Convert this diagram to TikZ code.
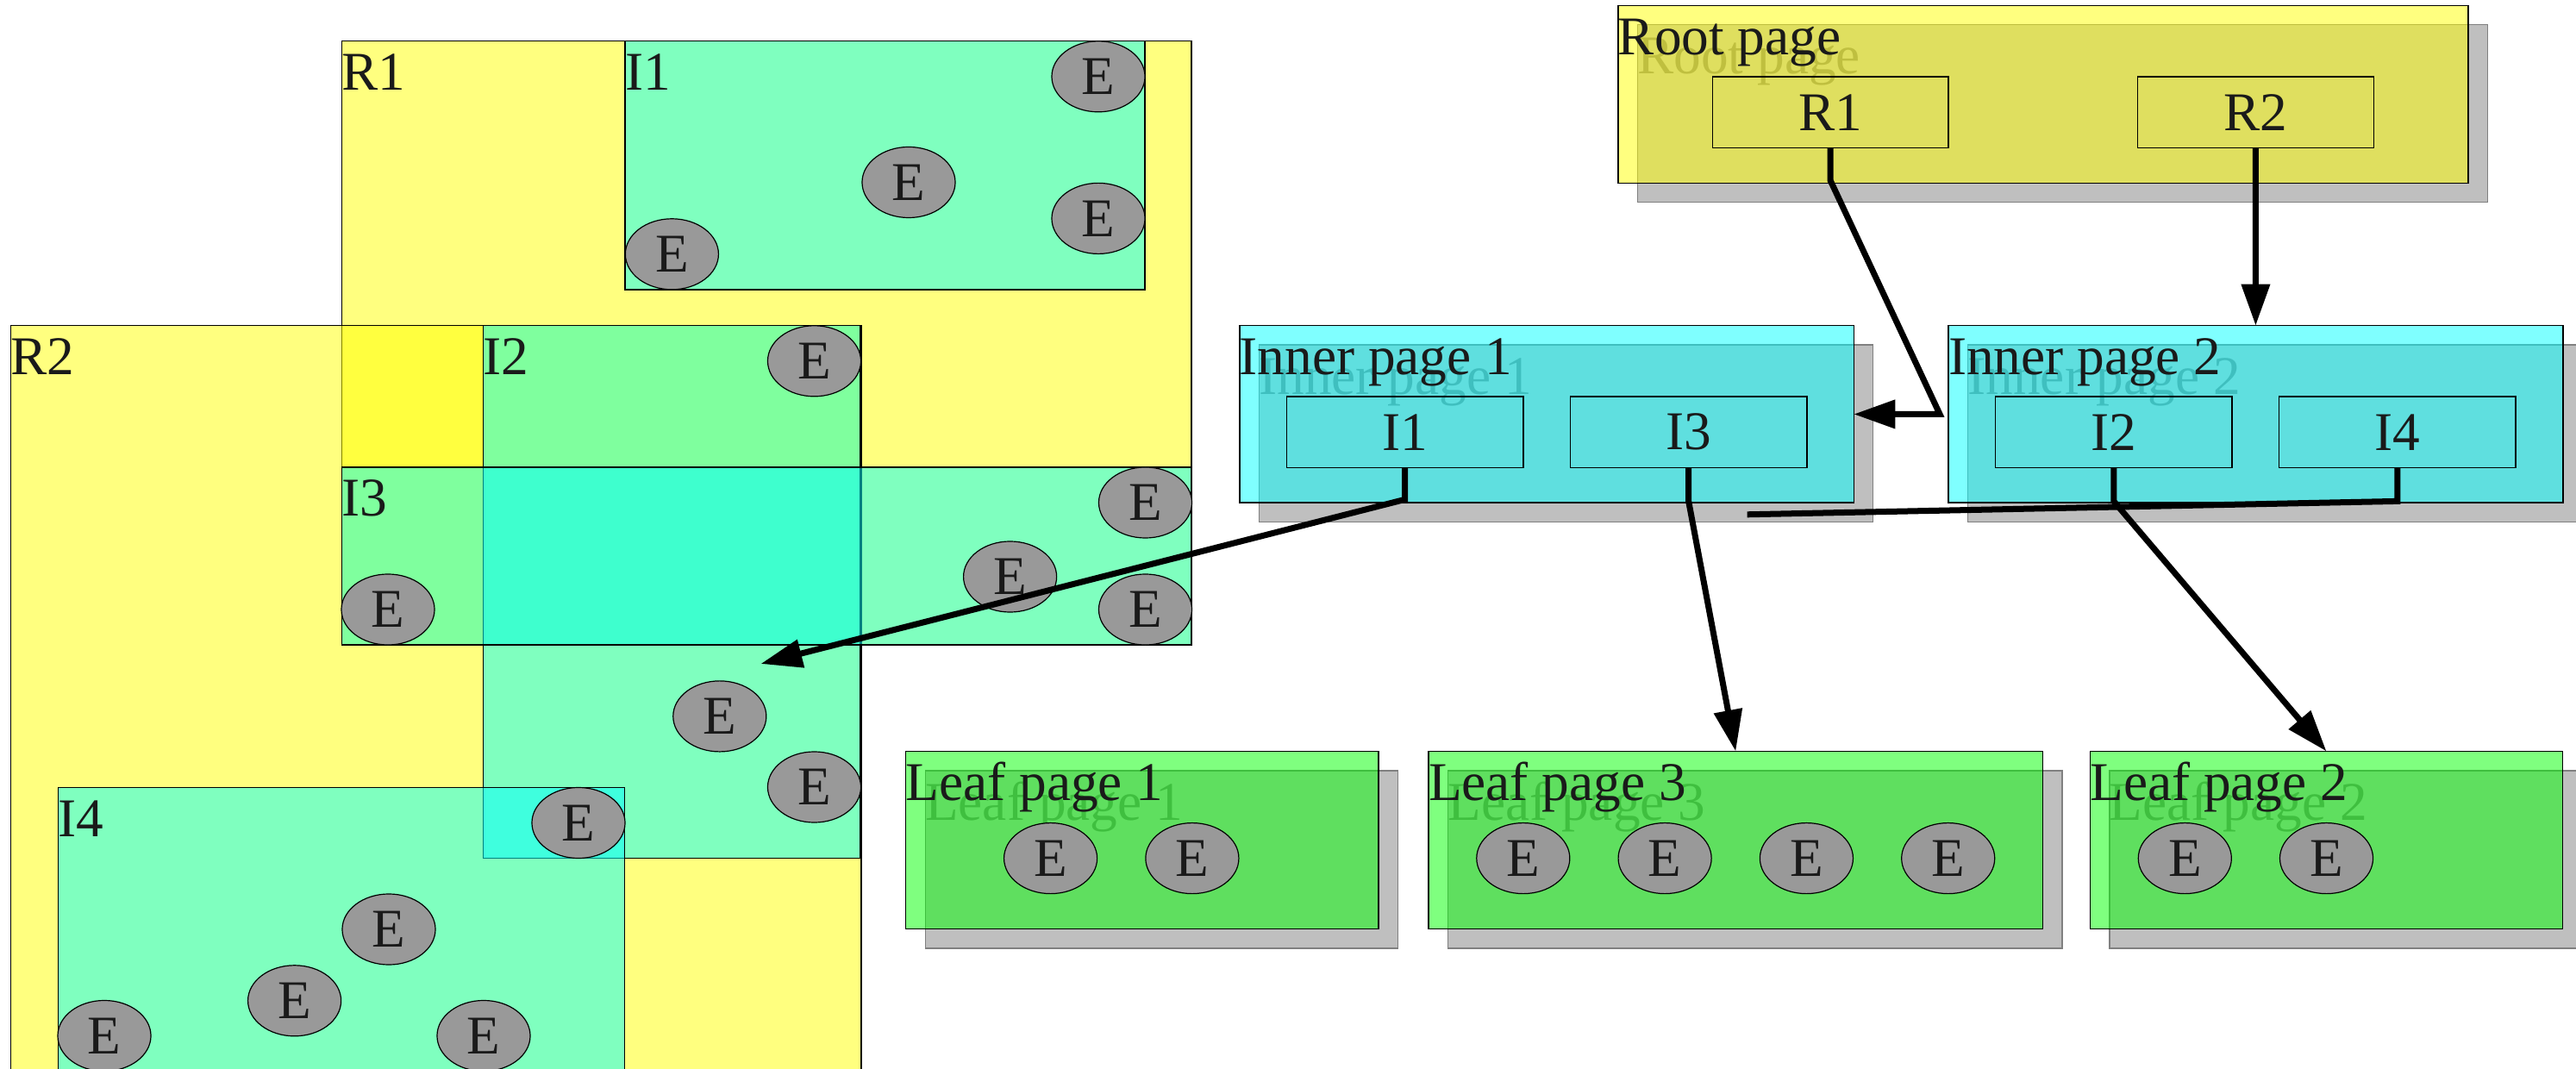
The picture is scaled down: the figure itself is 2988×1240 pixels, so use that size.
\documentclass[tikz,border=0pt]{standalone}
\usepackage{fontspec}
\setmainfont{Liberation Serif}
\usetikzlibrary{arrows.meta,shapes.geometric,fit}
\definecolor{ye}{RGB}{255,255,0}
\definecolor{cy}{RGB}{0,255,255}
\definecolor{gr}{RGB}{0,255,0}
\definecolor{shd}{RGB}{191,191,191}
\definecolor{shdline}{RGB}{128,128,128}
\definecolor{ghostc}{RGB}{128,128,128}
\definecolor{egray}{RGB}{153,153,153}
\definecolor{txt}{RGB}{26,26,26}
\tikzset{
  every node/.style={font=\fontsize{18}{21}\selectfont, text=txt},
  region/.style={rectangle, inner sep=0pt, outer sep=0pt, draw=black, line width=0.014cm, fill=#1, fill opacity=0.5},
  ell/.style={ellipse, draw=black, line width=0.012cm, fill=egray, inner sep=0pt, minimum width=1.08cm, minimum height=0.82cm},
  lbl/.style={anchor=base west, inner sep=0pt, outer sep=0pt},
  ghost/.style={lbl, text=ghostc},
  shadowbox/.style={rectangle, inner sep=0pt, outer sep=0pt, draw=shdline, line width=0.014cm, fill=shd},
  keybox/.style={rectangle, inner sep=0pt, outer sep=0pt, draw=black, line width=0.014cm},
  conn/.style={draw=black, line width=0.07cm},
  tipped/.style={-{Triangle[length=0.48cm,width=0.32cm]}}
}
\begin{document}
\begin{tikzpicture}[x=0.01cm,y=-0.01cm]
\useasboundingbox (0,0) rectangle (2988,1240);
\begin{scope}
\clip (0,0) rectangle (2988,1240);
% ---------------- left diagram ----------------
\node[region=ye, fit={(396.4,47.5) (1382,748)}] (regR1) {};
\node[region=ye, fit={(12.6,377.8) (999,1300)}] (regR2) {};
\node[region=cy, fit={(725,47.5) (1327.8,336)}] (regI1) {};
\node[region=cy, fit={(560.5,377.8) (998,995.5)}] (regI2) {};
\node[region=cy, fit={(396.4,542) (1382,748)}] (regI3) {};
\node[region=cy, fit={(67.3,913.5) (724.6,1300)}] (regI4) {};

\node[lbl] (tR1) at (396.4,104.5) {R1};
\node[lbl] (tI1) at (725,104.5) {I1};
\node[lbl] (tR2) at (12.6,434.8) {R2};
\node[lbl] (tI2) at (560.5,434.8) {I2};
\node[lbl] (tI3) at (396.4,599) {I3};
\node[lbl] (tI4) at (67.3,970.5) {I4};

\node[ell] (e1) at (1274,88.8) {E};
\node[ell] (e2) at (1054,211.5) {E};
\node[ell] (e3) at (1274,253.4) {E};
\node[ell] (e4) at (779.4,294.8) {E};
\node[ell] (e5) at (944.5,418.8) {E};
\node[ell] (e6) at (1328.5,583) {E};
\node[ell] (e7) at (1171.6,669) {E};
\node[ell] (e8) at (1328.5,707) {E};
\node[ell] (e9) at (450,707) {E};
\node[ell] (e10) at (834.8,830.9) {E};
\node[ell] (e11) at (944.5,913) {E};
\node[ell] (e12) at (671,954.5) {E};
\node[ell] (e13) at (451,1078) {E};
\node[ell] (e14) at (341.6,1160.8) {E};
\node[ell] (e15) at (121,1201.5) {E};
\node[ell] (e16) at (561,1201.5) {E};

% ---------------- right diagram: shadows ----------------
\node[shadowbox, fit={(1899.4,28.8) (2885.5,234.8)}] (rootsh) {};
\node[shadowbox, fit={(1460.3,400.2) (2172.7,605.7)}] (inner1sh) {};
\node[shadowbox, fit={(2282.5,400.2) (2995.3,605.7)}] (inner2sh) {};
\node[shadowbox, fit={(1073.2,894) (1621.4,1100)}] (leaf1sh) {};
\node[shadowbox, fit={(1679.5,894) (2392,1100)}] (leaf3sh) {};
\node[shadowbox, fit={(2446.9,894) (2995.1,1100)}] (leaf2sh) {};

\node[ghost] (groot) at (1899.4,85.8) {Root page};
\node[ghost] (ginner1) at (1460.3,457.2) {Inner page 1};
\node[ghost] (ginner2) at (2282.5,457.2) {Inner page 2};
\node[ghost] (gleaf1) at (1073.2,951) {Leaf page 1};
\node[ghost] (gleaf3) at (1679.5,951) {Leaf page 3};
\node[ghost] (gleaf2) at (2446.9,951) {Leaf page 2};

% ---------------- pages ----------------
\node[region=ye, fit={(1876.9,6.3) (2863,212.3)}] (root) {};
\node[region=cy, fit={(1437.8,377.7) (2150.2,583.2)}] (inner1) {};
\node[region=cy, fit={(2260,377.7) (2972.8,583.2)}] (inner2) {};
\node[region=gr, fit={(1050.7,871.5) (1598.9,1077.5)}] (leaf1) {};
\node[region=gr, fit={(1657,871.5) (2369.5,1077.5)}] (leaf3) {};
\node[region=gr, fit={(2424.4,871.5) (2972.6,1077.5)}] (leaf2) {};

\node[lbl] (troot) at (1876.9,63.3) {Root page};
\node[lbl] (tinner1) at (1437.8,434.7) {Inner page 1};
\node[lbl] (tinner2) at (2260,434.7) {Inner page 2};
\node[lbl] (tleaf1) at (1050.7,928.5) {Leaf page 1};
\node[lbl] (tleaf3) at (1657,928.5) {Leaf page 3};
\node[lbl] (tleaf2) at (2424.4,928.5) {Leaf page 2};

% key boxes
\node[keybox, fit={(1986.4,89) (2260,171.6)}] (r1b) {};
\node[keybox, fit={(2479.3,89) (2753.6,171.6)}] (r2b) {};
\node[keybox, fit={(1492.3,460) (1766.8,542.4)}] (i1b) {};
\node[keybox, fit={(1821.4,460) (2095.9,542.4)}] (i3b) {};
\node[keybox, fit={(2314.5,460) (2589,542.4)}] (i2b) {};
\node[keybox, fit={(2643.6,460) (2918.1,542.4)}] (i4b) {};
\node (tr1b) at (r1b) {R1};
\node (tr2b) at (r2b) {R2};
\node (ti1b) at (i1b) {I1};
\node (ti3b) at (i3b) {I3};
\node (ti2b) at (i2b) {I2};
\node (ti4b) at (i4b) {I4};

% leaf entries
\node[ell] (l1a) at (1218.6,995.6) {E};
\node[ell] (l1b) at (1382.9,995.6) {E};
\node[ell] (l3a) at (1766.8,995.6) {E};
\node[ell] (l3b) at (1931.1,995.6) {E};
\node[ell] (l3c) at (2095.4,995.6) {E};
\node[ell] (l3d) at (2259.7,995.6) {E};
\node[ell] (l2a) at (2534.3,995.6) {E};
\node[ell] (l2b) at (2698.5,995.6) {E};

% ---------------- connectors ----------------
\coordinate (k1) at (2123.2,209.5);
\coordinate (k2) at (2250,480.45);
\draw[conn, tipped] (r1b.south) -- (k1) -- (k2) -- (inner1.east);
\draw[conn, tipped] (r2b.south) -- (inner2.north);
\draw[conn, tipped] (i3b.south) -- ++(0,39) -- (leaf3.north);
\draw[conn, tipped] (i2b.south) -- ++(0,39) -- (leaf2.north);
\coordinate (k5) at (2026.6,596.8);
\draw[conn] (i4b.south) -- ++(0,39) -- (k5);
\coordinate (k6) at (882.5,770);
\draw[conn, tipped] (i1b.south) -- ++(0,37) -- (k6);
\end{scope}
\end{tikzpicture}
\end{document}
